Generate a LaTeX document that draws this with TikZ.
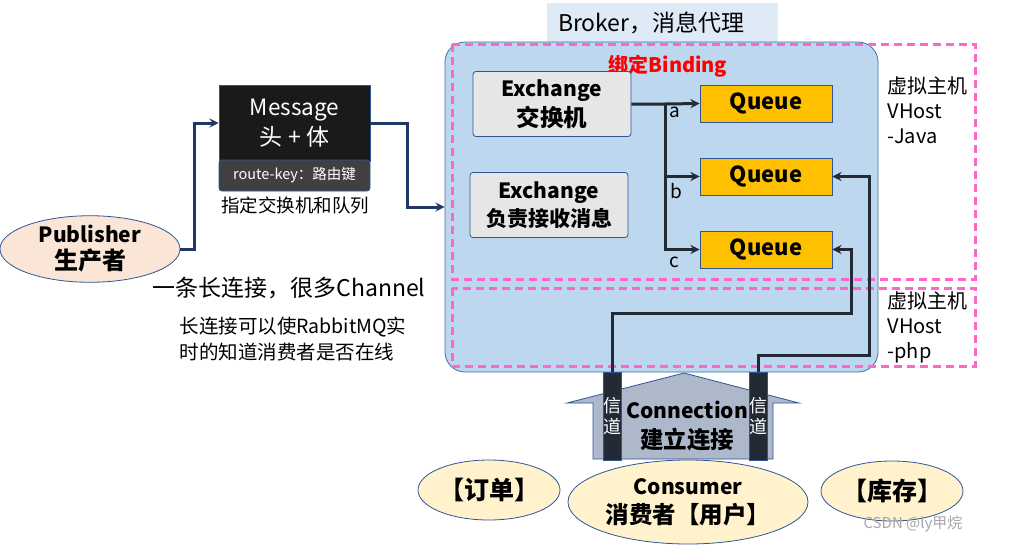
\documentclass[tikz,border=0pt]{standalone}
\usepackage{fontspec}
\setmainfont{Noto Sans CJK SC}
\usetikzlibrary{shapes.geometric,calc}

\definecolor{brokerfill}{HTML}{BDD7EE}
\definecolor{brokerline}{HTML}{41719C}
\definecolor{labelbg}{HTML}{DEEBF7}
\definecolor{vhostpink}{HTML}{FF66CC}
\definecolor{boxline}{HTML}{2F5597}
\definecolor{exgray}{HTML}{E7E6E6}
\definecolor{queuefill}{HTML}{FFC000}
\definecolor{navyline}{HTML}{203864}
\definecolor{darkline}{HTML}{222A35}
\definecolor{connfill}{HTML}{ADB9CA}
\definecolor{pubfill}{HTML}{FBE5D6}
\definecolor{consfill}{HTML}{FFF2CC}
\definecolor{msgfill}{HTML}{1A1A1A}
\definecolor{keyfill}{HTML}{404040}

\newcommand\fsz[1]{\fontsize{#1}{#1}\selectfont}

\begin{document}
\begin{tikzpicture}[x=1pt,y=-1pt,>=stealth,
  box/.style={draw=boxline,line width=0.8pt,align=center,inner sep=0pt},
  exbox/.style={box,fill=exgray,rounded corners=3pt,minimum width=158pt,minimum height=65pt},
  queuebox/.style={box,fill=queuefill,minimum width=132pt,minimum height=37pt,
    font=\fontsize{22}{24}\selectfont\bfseries},
  oval/.style={draw=boxline,line width=0.8pt,ellipse,align=center,inner sep=0pt},
  chanbar/.style={box,fill=darkline,text=white,minimum width=16pt,minimum height=88pt,
    font=\fontsize{18}{21}\selectfont},
  vhost/.style={draw=vhostpink,line width=3pt,dash pattern=on 8pt off 5pt},
  pubarrow/.style={draw=navyline,line width=3pt,->},
  bindarrow/.style={draw=darkline,line width=3pt,->}]
\useasboundingbox (0,0) rectangle (1010,544);

\node[fill=labelbg,inner xsep=11pt,inner ysep=0pt,text width=209pt,minimum height=39pt,
  align=left,font=\fontsize{23}{26}\selectfont] (brokerlbl) at (662.5,22.5) {Broker，消息代理};
\node[draw=brokerline,line width=0.8pt,fill=brokerfill,rounded corners=20pt,
  minimum width=433pt,minimum height=330pt] (broker) at (661.5,207) {};
\draw[vhost] (452,44) rectangle (975,279);
\draw[vhost] (452,288) rectangle (975,366);

\node[text=red,font=\fontsize{20}{24}\selectfont\bfseries] (binding) at (668,66) {绑定Binding};
\node[align=left,anchor=north west,font=\fontsize{20}{25}\selectfont] (vjava) at (884,73) {虚拟主机\\VHost\\-Java};
\node[align=left,anchor=north west,font=\fontsize{20}{25}\selectfont] (vphp) at (884,288) {虚拟主机\\VHost\\-php};

\node[exbox] (ex1) at (552,104) {\fsz{21}\bfseries Exchange\\[4pt]\fsz{23.5}\bfseries 交换机};
\node[exbox] (ex2) at (549,205) {\fsz{21}\bfseries Exchange\\[4pt]\fsz{21}\bfseries 负责接收消息};
\node[queuebox] (q1) at (766,103.5) {Queue};
\node[queuebox] (q2) at (766,176.5) {Queue};
\node[queuebox] (q3) at (766,249.5) {Queue};

\coordinate (fork) at (665,104);
\draw[bindarrow] (ex1.east) -- (fork) -- (q1.west);
\draw[bindarrow] (fork) |- (q2.west);
\draw[bindarrow] (fork) |- (q3.west);
\node[font=\fontsize{19}{22}\selectfont] (la) at (675,112) {a};
\node[font=\fontsize{19}{22}\selectfont] (lb) at (676,191) {b};
\node[font=\fontsize{19}{22}\selectfont] (lc) at (674,262) {c};

\node[box,fill=msgfill,text=white,minimum width=151pt,minimum height=76pt] (msg) at (294.5,123)
  {\fsz{22.5}Message\\[4pt]\fsz{23}头 + 体};
\node[box,fill=keyfill,text=white,rounded corners=3pt,minimum width=151pt,minimum height=31pt,
  font=\fontsize{14.5}{16}\selectfont] (key) at (294.5,175.5) {route-key：路由键};
\node[font=\fontsize{18.5}{20}\selectfont] (keynote) at (295,205) {指定交换机和队列};

\node[oval,fill=pubfill,minimum width=180pt,minimum height=62pt] (pub) at (90,249)
  {\fsz{21}\bfseries Publisher\\[5pt]\fsz{24}\bfseries 生产者};
\draw[pubarrow] (pub.east) -- ++(14,0) |- (msg.west);
\draw[pubarrow] (msg.east) -- ++(37,0) |- (broker.west);

\node[font=\fontsize{23}{26}\selectfont] (longconn) at (289,288) {一条长连接，很多Channel};
\node[align=left,anchor=north west,font=\fontsize{19.5}{26}\selectfont] (connnote) at (176,313) {长连接可以使RabbitMQ实\\时的知道消费者是否在线};

\draw[draw=boxline,line width=0.8pt,fill=connfill] (684,373) -- (799,403) -- (773,403) -- (773,459)
  -- (593,459) -- (593,403) -- (567,403) -- cycle;
\node[align=center] (conn) at (687,426) {\fsz{21}\bfseries Connection\\[8pt]\fsz{23.5}\bfseries 建立连接};
\node[chanbar] (ch1) at (612,416) {信\\道};
\node[chanbar] (ch2) at (758,416) {信\\道};
\draw[bindarrow] (ch1.north) |- (851,313) |- (q3.east);
\draw[bindarrow] (ch2.north) |- (869,355) |- (q2.east);

\node[oval,fill=consfill,minimum width=240pt,minimum height=84pt] (cons) at (688,502)
  {\fsz{21}\bfseries Consumer\\[7pt]\fsz{23.5}\bfseries 消费者【用户】};
\node[oval,fill=consfill,minimum width=142pt,minimum height=60pt,
  font=\fontsize{25}{26}\selectfont\bfseries] (order) at (489,490) {【订单】};
\node[oval,fill=consfill,minimum width=142pt,minimum height=60pt,
  font=\fontsize{25}{26}\selectfont\bfseries] (stock) at (892,491) {【库存】};
\node[text=black!35,font=\fontsize{15}{18}\selectfont] (mark) at (913,524) {CSDN @ly甲烷};
\end{tikzpicture}
\end{document}
